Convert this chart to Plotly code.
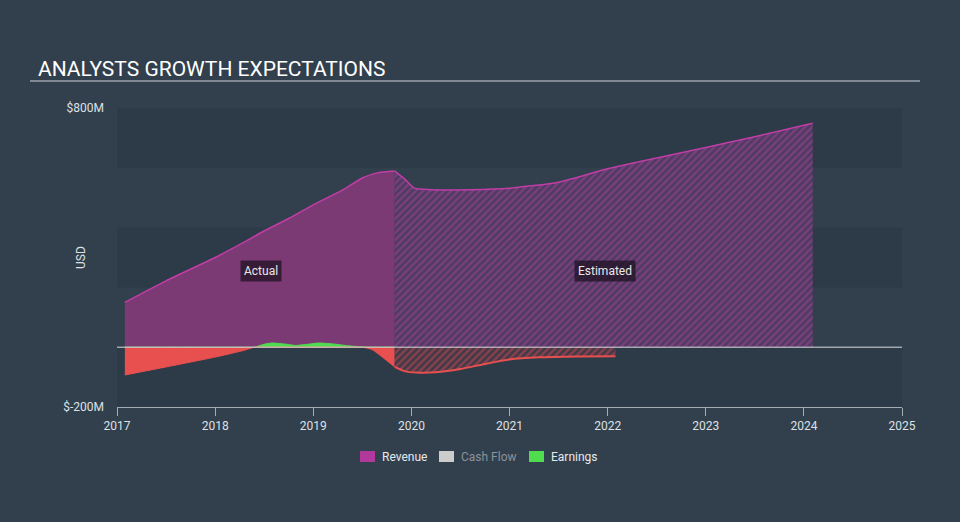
import numpy as np
import plotly.graph_objects as go

# ---- data (USD millions, x in decimal years) ----
rev_act_x = [2017.08, 2017.5, 2018.0, 2018.3, 2018.46, 2018.76, 2019.0, 2019.3, 2019.5, 2019.65, 2019.83]
rev_act_y = [150, 222, 300, 352, 382, 432, 476, 526, 566, 583, 589]

rev_est_x = [2019.83, 2019.93, 2020.03, 2020.2, 2020.6, 2021.0, 2021.5, 2022.0, 2022.5, 2023.0, 2023.5, 2024.09]
rev_est_y = [589, 563, 532, 527, 527, 532, 552, 597, 633, 668, 704, 749]

earn_act_x = [2017.08, 2017.5, 2018.0, 2018.3, 2018.4, 2018.5, 2018.58, 2018.7, 2018.82, 2018.95, 2019.05, 2019.2, 2019.35, 2019.5, 2019.6, 2019.7, 2019.83]
earn_act_y = [-93, -66, -33, -10, 0, 10, 14, 11, 6, 10, 14, 11, 5, 1, -8, -32, -66]

earn_est_x = [2019.83, 2019.93, 2020.05, 2020.25, 2020.5, 2020.75, 2021.0, 2021.3, 2021.7, 2022.08]
earn_est_y = [-66, -80, -85, -84, -73, -56, -41, -34, -31, -30]

y_ticks = [-200, 800]
y_tick_text = ["$-200M", "$800M"]
x_ticks = [2017, 2018, 2019, 2020, 2021, 2022, 2023, 2024, 2025]

legend_names = ["Revenue", "Cash Flow", "Earnings"]
legend_colors = ["#b0399b", "#cccccc", "#4fdc4f"]
legend_text_colors = ["#e6e9ec", "#8a929b", "#e6e9ec"]

# ---- colours ----
BG = "#323f4d"
BAND = "#2d3a48"
PURPLE_FILL = "#7c3a74"
PURPLE_LINE = "#c03ea6"
RED = "#e8504f"
GREEN = "#4fdc4f"
TXT = "#dde1e5"

fig = go.Figure()

# Revenue actual
fig.add_trace(go.Scatter(x=rev_act_x, y=rev_act_y, mode="lines", fill="tozeroy",
                         fillcolor=PURPLE_FILL, line=dict(color=PURPLE_LINE, width=1.5, shape="spline", smoothing=0.6),
                         showlegend=False, hoverinfo="skip"))
# Revenue estimated (hatched)
fig.add_trace(go.Scatter(x=rev_est_x, y=rev_est_y, mode="lines", fill="tozeroy",
                         fillcolor="rgba(0,0,0,0)",
                         fillpattern=dict(shape="/", fgcolor="#a2429a", bgcolor="#4e3b60", size=5, solidity=0.5),
                         line=dict(color=PURPLE_LINE, width=1.5, shape="spline", smoothing=0.6),
                         showlegend=False, hoverinfo="skip"))

# Earnings actual: positive green, negative red
ea = np.array(earn_act_y, dtype=float)
fig.add_trace(go.Scatter(x=earn_act_x, y=np.maximum(ea, 0), mode="lines", fill="tozeroy",
                         fillcolor=GREEN, line=dict(color=GREEN, width=1, shape="spline", smoothing=0.5),
                         showlegend=False, hoverinfo="skip"))
fig.add_trace(go.Scatter(x=earn_act_x, y=np.minimum(ea, 0), mode="lines", fill="tozeroy",
                         fillcolor=RED, line=dict(color=RED, width=1, shape="spline", smoothing=0.5),
                         showlegend=False, hoverinfo="skip"))
# Earnings estimated (hatched red)
fig.add_trace(go.Scatter(x=earn_est_x, y=earn_est_y, mode="lines", fill="tozeroy",
                         fillcolor="rgba(0,0,0,0)",
                         fillpattern=dict(shape="/", fgcolor="#cc4a4c", bgcolor="#40394a", size=5, solidity=0.5),
                         line=dict(color=RED, width=2, shape="spline", smoothing=0.6),
                         showlegend=False, hoverinfo="skip"))

# pixel -> paper helpers for decoration
PL, PW, PB, PH = 117, 785, 407, 299
def px(v):
    return (v - PL) / PW
def py(v):
    return (PB - v) / PH

shapes = []
# alternating bands
for lo, hi in [(600, 800), (200, 400), (-200, 0)]:
    shapes.append(dict(type="rect", xref="paper", yref="y", x0=0, x1=1, y0=lo, y1=hi,
                       fillcolor=BAND, line=dict(width=0), layer="below"))
# zero line
shapes.append(dict(type="line", xref="paper", yref="y", x0=0, x1=1, y0=0, y1=0,
                   line=dict(color="#d8dbde", width=1), layer="above"))
# title underline
shapes.append(dict(type="line", xref="paper", yref="paper", x0=px(30), x1=px(920),
                   y0=py(81), y1=py(81), line=dict(color="#9aa2ab", width=1.5)))

annotations = [
    dict(x=2018.47, y=255, xref="x", yref="y", text="Actual", showarrow=False,
         font=dict(size=12, color="#e8e8e8"), bgcolor="rgba(25,15,30,0.7)", borderpad=3),
    dict(x=2021.97, y=255, xref="x", yref="y", text="Estimated", showarrow=False,
         font=dict(size=12, color="#e8e8e8"), bgcolor="rgba(25,15,30,0.7)", borderpad=3),
    dict(x=px(81), y=py(258), xref="paper", yref="paper", text="USD",
         textangle=-90, showarrow=False, font=dict(size=12, color=TXT),
         xanchor="center", yanchor="middle"),
]

# manual legend
icon_left = [360, 439, 529]
for name, col, tcol, x0 in zip(legend_names, legend_colors, legend_text_colors, icon_left):
    shapes.append(dict(type="rect", xref="paper", yref="paper", x0=px(x0), x1=px(x0 + 15),
                       y0=py(462), y1=py(451), fillcolor=col, line=dict(width=0)))
    annotations.append(dict(x=px(x0 + 20), y=py(456.5), xref="paper", yref="paper", text=name,
                            showarrow=False, xanchor="left", yanchor="middle",
                            font=dict(size=12, color=tcol)))

fig.update_layout(
    width=960, height=522,
    paper_bgcolor=BG, plot_bgcolor=BG,
    margin=dict(l=117, r=58, t=108, b=115, autoexpand=False),
    font=dict(family="Roboto", color=TXT, size=12),
    title=dict(text="ANALYSTS GROWTH EXPECTATIONS", xref="container", yref="container",
               x=38 / 960, y=1 - 69 / 522, xanchor="left", yanchor="middle",
               font=dict(size=21, color="#ffffff", family="Roboto")),
    shapes=shapes,
    annotations=annotations,
    showlegend=False,
    hovermode=False,
)

fig.update_xaxes(range=[2017, 2025], tickvals=x_ticks, ticktext=[str(v) for v in x_ticks],
                 showgrid=False, zeroline=False, showline=True, linecolor="#a3abb3", linewidth=1,
                 ticks="outside", ticklen=8, tickcolor="#a3abb3", tickfont=dict(size=12, color=TXT),
                 fixedrange=True, automargin=False)
fig.update_yaxes(range=[-200, 800], tickvals=y_ticks, ticktext=y_tick_text,
                 showgrid=False, zeroline=False, showline=False, ticks="",
                 ticklabelstandoff=12, tickfont=dict(size=12, color=TXT),
                 fixedrange=True, automargin=False)

fig.write_html("out.html")
